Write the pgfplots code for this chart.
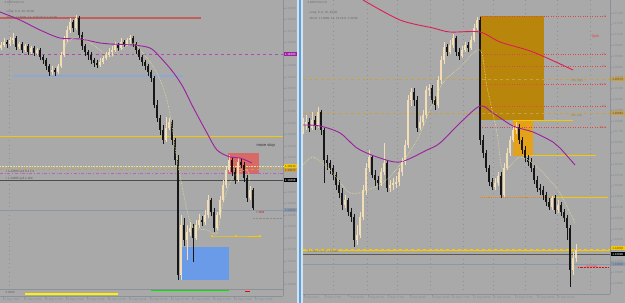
\documentclass[border=0pt]{standalone}
\usepackage{pgfplots}
\usepackage{pgfplotstable}
\pgfplotsset{compat=1.18}
\usepackage{fontspec}
\setmainfont{Liberation Sans}
\newfontfamily\dv{DejaVu Sans}
\newcommand\tf{\fontsize{3}{3.3}\selectfont}
\newcommand\smf{\fontsize{4}{4.4}\selectfont}
\definecolor{bg}{HTML}{A9A9A9}
\definecolor{bull}{HTML}{F3DDB5}
\definecolor{bear}{HTML}{161616}
\definecolor{mapurple}{HTML}{9B1FA0}
\definecolor{mared}{HTML}{DC1F52}
\definecolor{gold}{HTML}{F5C800}
\definecolor{fib}{HTML}{E04848}
\definecolor{ochre}{HTML}{B8860B}
\definecolor{ochre2}{HTML}{E3A21A}
\definecolor{boxblue}{HTML}{6A9BE8}
\definecolor{boxred}{HTML}{D76A66}
\definecolor{dgold}{HTML}{C9A143}
\definecolor{lblc}{HTML}{868C96}
\definecolor{axc}{HTML}{8C9099}
\definecolor{gridc}{HTML}{8E9096}
\definecolor{ymadot}{HTML}{EDE28A}
\definecolor{sepl}{HTML}{D3E2F0}
\definecolor{sepb}{HTML}{5E9FD8}
\definecolor{lblue}{HTML}{8FA8D0}
\definecolor{gblue}{HTML}{8A98AC}

\pgfplotsset{
  up/.style={restrict expr to domain={\thisrow{o}-\thisrow{c}}{0:1000}},
  dn/.style={restrict expr to domain={\thisrow{c}-\thisrow{o}}{0.001:1000}},
  wick/.style={draw=none, no markers, forget plot, error bars/.cd, y dir=both, y explicit, error mark=none, error bar style={draw=#1, line width=0.5bp}},
  body/.style={draw=none, no markers, forget plot, error bars/.cd, y dir=both, y explicit, error mark=none, error bar style={draw=#1, line width=2bp}},
  mtaxis/.style={scale only axis, y dir=reverse, clip=false,
    axis x line*=bottom, axis y line*=right,
    axis line style={draw=axc, line width=0.5bp},
    tick style={draw=axc, line width=0.3bp}, major tick length=1.5bp, tick align=outside,
    yticklabel pos=right,
    ticklabel style={font=\tf, text=lblc, inner sep=0.6bp},
    xticklabel style={anchor=north west, xshift=-1bp},
    yticklabel style={anchor=west}},
}

\pgfplotstableread{
x o c h l
1 48 45 42 50
4 45 42 38 47
7 42 44 40 48
10 44 40 37 46
13 40 38 33 44
16 38 47 36 50
19 47 44 42 49
22 44 50 42 53
25 50 46 44 52
28 46 52 44 55
31 52 48 46 54
34 48 53 46 56
37 53 50 48 55
40 50 57 48 60
43 57 60 55 64
46 60 66 58 70
49 66 72 64 76
52 72 70 66 75
55 70 72 68 76
58 72 66 64 74
61 66 55 52 68
64 55 40 36 57
67 40 30 26 42
70 30 22 18 33
73 22 28 20 32
76 28 18 15 30
79 18 35 16 38
82 35 46 32 50
85 46 52 44 56
88 52 55 50 60
91 55 60 52 64
94 60 63 58 67
97 63 65 60 68
100 65 62 58 67
103 62 58 56 64
106 58 55 52 60
109 55 52 48 57
112 52 50 46 56
115 50 45 42 52
118 45 48 43 51
121 48 42 38 50
124 42 44 40 47
127 44 40 38 46
130 40 38 35 43
133 38 44 36 47
136 44 50 42 54
139 50 57 48 60
142 57 62 55 66
145 62 66 60 70
148 66 72 64 76
151 72 78 70 82
154 78 105 76 108
157 105 118 100 122
160 118 130 115 135
163 130 140 125 144
166 140 128 117 142
169 128 122 118 130
172 122 140 120 145
175 140 160 138 165
178 160 275 155 280
181 275 225 215 280
184 225 240 218 246
187 240 232 225 260
190 232 228 222 236
193 228 238 224 262
196 238 225 220 240
199 225 220 214 228
202 220 222 216 226
205 222 215 210 225
208 215 200 195 218
211 200 212 198 216
214 212 228 208 232
217 228 215 212 230
220 215 200 196 218
223 200 185 180 202
226 185 170 166 188
229 170 160 155 172
232 160 172 157 176
235 172 180 168 184
238 180 162 158 182
241 162 165 158 168
244 165 178 162 182
247 178 198 175 202
250 198 190 186 200
253 190 208 188 210
}\leftc

\pgfplotstableread{
x o c h l
303 130 125 118 134
306 125 122 115 130
309 122 128 118 132
312 128 120 112 130
315 120 125 116 130
318 125 112 107 128
321 112 130 110 135
324 130 160 128 183
327 160 163 155 170
330 163 168 160 174
333 168 175 165 180
336 175 185 172 190
339 185 193 180 198
342 193 205 188 210
345 205 200 195 208
348 200 212 198 216
351 212 217 208 222
354 217 240 214 247
357 240 235 225 245
360 235 217 212 238
363 217 190 185 220
366 190 168 163 195
369 168 157 150 172
372 157 175 155 178
375 175 180 170 186
378 180 183 176 190
381 183 172 168 186
384 172 163 143 175
387 163 188 160 192
390 188 185 180 192
393 185 183 178 190
396 183 182 176 188
399 182 172 168 186
402 172 162 158 176
405 162 145 140 165
408 145 100 95 148
411 100 92 88 106
414 92 100 88 106
417 100 128 96 132
420 128 122 116 130
423 122 115 110 126
426 115 90 86 118
429 90 88 84 96
432 88 100 85 104
435 100 105 96 110
438 105 80 76 108
441 80 60 56 84
444 60 47 42 64
447 47 52 44 56
450 52 45 40 54
453 45 38 34 48
456 38 52 36 56
459 52 56 48 60
462 56 50 46 58
465 50 45 42 52
468 45 48 42 52
471 48 40 36 50
474 40 28 24 42
477 28 20 17 30
480 20 140 17 145
483 140 153 135 158
486 153 168 150 172
489 168 182 165 186
492 182 187 178 190
495 187 183 178 190
498 183 176 172 186
501 176 195 172 198
504 195 168 163 197
507 168 153 148 170
510 153 140 136 156
513 140 130 125 142
516 130 127 122 134
519 127 140 124 144
522 140 150 137 154
525 150 158 146 162
528 158 162 155 166
531 162 168 158 172
534 168 180 165 184
537 180 188 176 192
540 188 190 184 195
543 190 195 186 200
546 195 202 192 206
549 202 207 198 210
552 207 198 196 210
555 198 210 195 214
558 210 205 200 213
561 205 212 202 216
564 212 218 209 222
567 218 228 215 240
570 228 270 225 287
573 270 258 252 275
576 258 250 244 262
}\rightc

\begin{document}
\begin{tikzpicture}
\useasboundingbox (0,0) rectangle (625bp,303bp);
\fill[bg] (0,0) rectangle (625bp,303bp);
\fill[sepl] (297bp,0) rectangle (303bp,303bp);
\fill[sepb] (299.3bp,0) rectangle (301.3bp,303bp);

% ================= LEFT PANEL =================
\begin{axis}[mtaxis, at={(0bp,7bp)}, anchor=south west,
  width=283bp, height=296bp, xmin=0, xmax=283, ymin=0, ymax=296,
  ytick={8,19.5,31,42.5,54,65.5,77,88.5,100,111.5,123,134.5,146,157.5,169,180.5,192,203.5,215,226.5,238,249.5,261,272.5,284},
  yticklabels={1.14855,1.14800,1.14745,1.14690,1.14635,1.14580,1.14525,1.14470,1.14415,1.14360,1.14305,1.14250,1.14195,1.14140,1.14085,1.14030,1.13975,1.13920,1.13865,1.13810,1.13755,1.13700,1.13645,1.13590,1.13535},
  xtick={3,24,45,66,87,108,129,150,171,192,213,234,255},
  xticklabels={15 Sep 2021,15 Sep 10:00,15 Sep 13:00,15 Sep 16:00,15 Sep 19:00,15 Sep 22:00,16 Sep 01:00,16 Sep 04:00,16 Sep 07:00,16 Sep 10:00,16 Sep 13:00,16 Sep 16:00,16 Sep 19:00},
]
\addplot[loosely dotted, draw=gridc, line width=0.4bp, forget plot] coordinates {(9,0) (9,289)};
\addplot[fill=boxred, draw=none, forget plot] coordinates {(228,153) (259,153) (259,174) (228,174)} -- cycle;
\addplot[fill=boxblue, draw=none, forget plot] coordinates {(180,247) (229,247) (229,280) (180,280)} -- cycle;
\addplot[draw=boxred!90!black, line width=1.2bp, forget plot] coordinates {(0,18) (201,18)};
\addplot[draw=mapurple!80, dashed, line width=0.6bp, forget plot] coordinates {(0,54) (283,54)};
\addplot[draw=lblue, line width=1.1bp, forget plot] coordinates {(13,76) (183,76)};
\addplot[draw=gold, line width=0.9bp, forget plot] coordinates {(0,136) (283,136)};
\addplot[draw=ymadot, densely dotted, line width=0.6bp, forget plot] coordinates {(0,166.5) (283,166.5)};
\addplot[draw=dgold, dashed, line width=0.6bp, forget plot] coordinates {(0,169) (283,169)};
\addplot[draw=mapurple!70, dash dot, line width=0.5bp, forget plot] coordinates {(0,173) (283,173)};
\addplot[draw=black!70, line width=0.6bp, forget plot] coordinates {(0,180) (283,180)};
\addplot[draw=gblue, line width=0.5bp, forget plot] coordinates {(0,210) (283,210)};
\addplot[draw=black!45, densely dotted, line width=0.4bp, forget plot] coordinates {(253,218) (282,218)};
\addplot[draw=gold, line width=0.8bp, mark=square*, mark size=0.8bp, mark options={fill=gold}, forget plot] coordinates {(212,236) (236,236) (260,236)};
\addplot[draw=axc, line width=0.5bp, forget plot] coordinates {(0,289) (283,289)};
\addplot[draw=yellow, line width=1.3bp, forget plot] coordinates {(25,294) (118,294)};
\addplot[draw=green!90!black, line width=1.1bp, forget plot] coordinates {(151,290.5) (229,290.5)};
\addplot[draw=red, line width=1bp, forget plot] coordinates {(245,291.5) (250,291.5)};
\addplot[up, wick=bull] table[x=x, y expr={(\thisrow{h}+\thisrow{l})/2}, y error expr={(\thisrow{l}-\thisrow{h})/2}] {\leftc};
\addplot[dn, wick=bear] table[x=x, y expr={(\thisrow{h}+\thisrow{l})/2}, y error expr={(\thisrow{l}-\thisrow{h})/2}] {\leftc};
\addplot[up, body=bull] table[x=x, y expr={(\thisrow{o}+\thisrow{c})/2}, y error expr={max(abs(\thisrow{o}-\thisrow{c})/2,0.4)}] {\leftc};
\addplot[dn, body=bear] table[x=x, y expr={(\thisrow{o}+\thisrow{c})/2}, y error expr={max(abs(\thisrow{o}-\thisrow{c})/2,0.4)}] {\leftc};
\addplot[draw=mapurple, line width=0.9bp, smooth, forget plot] coordinates {(0,12) (20,20) (40,30) (60,38) (80,39) (100,43) (110,44) (133,45) (150,48) (160,57) (173,72) (183,87) (193,107) (207,133) (217,150) (230,157) (240,158) (252,163)};
\addplot[draw=ymadot, densely dotted, line width=0.6bp, smooth, forget plot] coordinates {(60,60) (67,43) (80,37) (100,50) (110,57) (120,50) (133,43) (143,53) (157,73) (167,100) (173,133) (177,160) (187,210) (193,227) (207,230) (217,233) (223,203) (233,177) (247,170) (250,183)};
\node[anchor=west, font=\tf, text=black!55] at (axis cs:1,3) {{\dv ▾} GBPUSD,H1};
\node[anchor=west, font=\tf, text=black!60] at (axis cs:3,12) {Long: 0, 0, 10, 40:00};
\node[anchor=west, font=\tf, text=black!60] at (axis cs:3,18) {Short: 1.13999, 12, 8:20:19 0, 1:42:00};
\node[anchor=west, font=\smf, text=black!80] at (axis cs:253,146) {move stop};
\node[anchor=west, font=\tf, text=black!65] at (axis cs:2,171) {+ 1.13855 sell 0.1 1.9};
\node[anchor=west, font=\tf, text=black!65] at (axis cs:2,178) {+ 1.13855 sell 1.100};
\node[anchor=west, font=\tf, text=red!80!black] at (axis cs:253,212) {r~10.6};
\node[anchor=west, font=\tf, text=black!60] at (axis cs:2,292) {0.0000};
\node[anchor=west, font=\tf, fill=mapurple, text=white, inner sep=0.5bp, minimum width=13bp] at (axis cs:283.5,54) {1.14600};
\node[anchor=west, font=\tf, fill=gold, text=black!70, inner sep=0.5bp, minimum width=13bp] at (axis cs:283.5,166) {1.13913};
\node[anchor=west, font=\tf, fill=dgold, text=black!70, inner sep=0.5bp, minimum width=13bp] at (axis cs:283.5,170) {1.13872};
\node[anchor=west, font=\tf, fill=black, text=white, inner sep=0.5bp, minimum width=13bp] at (axis cs:283.5,180) {1.13808};
\node[anchor=west, font=\tf, fill=gblue, text=black!60, inner sep=0.5bp, minimum width=13bp] at (axis cs:283.5,210) {1.13682};
\end{axis}

\begin{axis}[mtaxis, at={(303bp,9bp)}, anchor=south west,
  width=307bp, height=294bp, xmin=303, xmax=610, ymin=0, ymax=294,
  ytick={13,23.8,34.6,45.4,56.2,67,77.8,88.6,99.4,110.2,121,131.8,142.6,153.4,164.2,175,185.8,196.6,207.4,218.2,229,239.8,250.6,261.4,272.2,283},
  yticklabels={1.17400,1.17250,1.17100,1.16950,1.16800,1.16650,1.16500,1.16350,1.16200,1.16050,1.15900,1.15750,1.15600,1.15450,1.15300,1.15150,1.15000,1.14850,1.14700,1.14550,1.14400,1.14250,1.14100,1.13950,1.13800,1.13650},
  xtick={304,325,348,368,388,410,432,452,473,493,515,537,557},
  xticklabels={3 Sep 2021,6 Sep 17:00,7 Sep 09:00,8 Sep 01:00,8 Sep 17:00,9 Sep 09:00,10 Sep 01:00,10 Sep 17:00,13 Sep 09:00,14 Sep 01:00,14 Sep 17:00,15 Sep 09:00,16 Sep 01:00},
]
\addplot[loosely dotted, draw=gridc, line width=0.4bp, forget plot] coordinates {(333,0) (333,294)};
\addplot[loosely dotted, draw=gridc, line width=0.4bp, forget plot] coordinates {(367,0) (367,294)};
\addplot[loosely dotted, draw=gridc, line width=0.4bp, forget plot] coordinates {(397,0) (397,294)};
\addplot[loosely dotted, draw=gridc, line width=0.4bp, forget plot] coordinates {(430,0) (430,294)};
\addplot[loosely dotted, draw=gridc, line width=0.4bp, forget plot] coordinates {(463,0) (463,294)};
\addplot[loosely dotted, draw=gridc, line width=0.4bp, forget plot] coordinates {(493,0) (493,294)};
\addplot[loosely dotted, draw=gridc, line width=0.4bp, forget plot] coordinates {(525,0) (525,294)};
\addplot[loosely dotted, draw=gridc, line width=0.4bp, forget plot] coordinates {(557,0) (557,294)};
\addplot[loosely dotted, draw=gridc, line width=0.4bp, forget plot] coordinates {(590,0) (590,294)};
\addplot[fill=ochre, draw=none, forget plot] coordinates {(480,16) (544,16) (544,120) (480,120)} -- cycle;
\addplot[fill=ochre2, draw=none, forget plot] coordinates {(513,120) (533,120) (533,156) (513,156)} -- cycle;
\addplot[draw=fib, dotted, line width=0.45bp, forget plot] coordinates {(480,16) (605,16)};
\addplot[draw=fib, dotted, line width=0.45bp, forget plot] coordinates {(480,54) (605,54)};
\addplot[draw=fib, dotted, line width=0.45bp, forget plot] coordinates {(480,66) (605,66)};
\addplot[draw=fib, dotted, line width=0.45bp, forget plot] coordinates {(480,84) (605,84)};
\addplot[draw=fib, dotted, line width=0.45bp, forget plot] coordinates {(480,106) (605,106)};
\addplot[draw=fib, dotted, line width=0.45bp, forget plot] coordinates {(480,127) (605,127)};
\addplot[draw=dgold, dashed, line width=0.6bp, forget plot] coordinates {(303,79) (610,79)};
\addplot[draw=dgold, dashed, line width=0.6bp, forget plot] coordinates {(303,113) (610,113)};
\addplot[draw=gold, line width=1bp, forget plot] coordinates {(513,120) (573,120)};
\addplot[draw=gold, line width=1bp, forget plot] coordinates {(523,155) (596,155)};
\addplot[draw=orange, densely dotted, line width=0.9bp, forget plot] coordinates {(480,197) (553,197)};
\addplot[draw=gold, line width=1bp, forget plot] coordinates {(553,197) (608,197)};
\addplot[draw=gold, dashed, line width=0.7bp, forget plot] coordinates {(303,249) (610,249)};
\addplot[draw=gold, line width=0.9bp, forget plot] coordinates {(303,250.5) (610,250.5)};
\addplot[draw=black!65, line width=0.6bp, forget plot] coordinates {(303,254) (610,254)};
\addplot[draw=gblue, line width=0.5bp, forget plot] coordinates {(303,264) (610,264)};
\addplot[draw=red, densely dotted, line width=0.5bp, forget plot] coordinates {(578,267) (609,267)};
\addplot[up, wick=bull] table[x=x, y expr={(\thisrow{h}+\thisrow{l})/2}, y error expr={(\thisrow{l}-\thisrow{h})/2}] {\rightc};
\addplot[dn, wick=bear] table[x=x, y expr={(\thisrow{h}+\thisrow{l})/2}, y error expr={(\thisrow{l}-\thisrow{h})/2}] {\rightc};
\addplot[up, body=bull] table[x=x, y expr={(\thisrow{o}+\thisrow{c})/2}, y error expr={max(abs(\thisrow{o}-\thisrow{c})/2,0.4)}] {\rightc};
\addplot[dn, body=bear] table[x=x, y expr={(\thisrow{o}+\thisrow{c})/2}, y error expr={max(abs(\thisrow{o}-\thisrow{c})/2,0.4)}] {\rightc};
\addplot[draw=mared, line width=0.9bp, smooth, forget plot] coordinates {(363,0) (400,20) (433,28) (450,32) (480,32) (500,42) (533,52) (573,70)};
\addplot[draw=mapurple, line width=0.9bp, smooth, forget plot] coordinates {(303,125) (320,126) (340,133) (357,148) (377,157) (400,162) (427,150) (440,143) (460,123) (480,106) (493,113) (513,126) (533,132) (553,142) (560,148) (575,165)};
\addplot[draw=ymadot, densely dotted, line width=0.6bp, smooth, forget plot] coordinates {(303,165) (313,157) (330,170) (350,193) (367,190) (383,183) (400,165) (417,140) (430,110) (443,83) (460,67) (480,50) (487,87) (497,133) (503,170) (520,157) (535,165) (547,177) (560,193) (575,223)};
\node[anchor=west, font=\tf, text=black!55] at (axis cs:304,3) {{\dv ▾} GBPUSD,H4};
\node[anchor=west, font=\tf, text=black!60] at (axis cs:306,13) {Long: 0, 0, 10, 40:00};
\node[anchor=west, font=\tf, text=black!60] at (axis cs:306,19) {Short: 1.13999, 12, 12:29 0, 1:42:00};
\node[anchor=west, font=\smf, text=fib] at (axis cs:588,37) {3pm};
\node[anchor=east, font=\tf, text=fib] at (axis cs:609,16) {0};
\node[anchor=east, font=\tf, text=fib] at (axis cs:609,54) {76};
\node[anchor=east, font=\tf, text=fib] at (axis cs:609,66) {72};
\node[anchor=east, font=\tf, text=fib] at (axis cs:609,84) {61.8};
\node[anchor=east, font=\tf, text=fib] at (axis cs:609,106) {50};
\node[anchor=east, font=\tf, text=fib] at (axis cs:609,127) {38.2};
\node[anchor=west, font=\tf, text=dgold!80!black] at (axis cs:568,81) {DG High};
\node[anchor=west, font=\tf, text=dgold!80!black] at (axis cs:568,115) {DG Low};
\node[anchor=west, font=\tf, text=fib] at (axis cs:582,267) {-8.6 pips};
\node[anchor=west, font=\tf, text=black!55] at (axis cs:304,251) {1.1 SELL 0.47 1.13999};
\node[anchor=west, font=\tf, fill=dgold, text=black!70, inner sep=0.5bp, minimum width=14bp] at (axis cs:610.5,79) {1.16573};
\node[anchor=west, font=\tf, fill=dgold, text=black!70, inner sep=0.5bp, minimum width=14bp] at (axis cs:610.5,113) {1.16061};
\node[anchor=west, font=\tf, fill=gold, text=black!70, inner sep=0.5bp, minimum width=14bp] at (axis cs:610.5,248) {1.14033};
\node[anchor=west, font=\tf, fill=black, text=white, inner sep=0.5bp, minimum width=14bp] at (axis cs:610.5,254) {1.13999};
\node[anchor=west, font=\tf, fill=gblue, text=black!60, inner sep=0.5bp, minimum width=14bp] at (axis cs:610.5,264) {1.13842};
\end{axis}
\end{tikzpicture}
\end{document}
